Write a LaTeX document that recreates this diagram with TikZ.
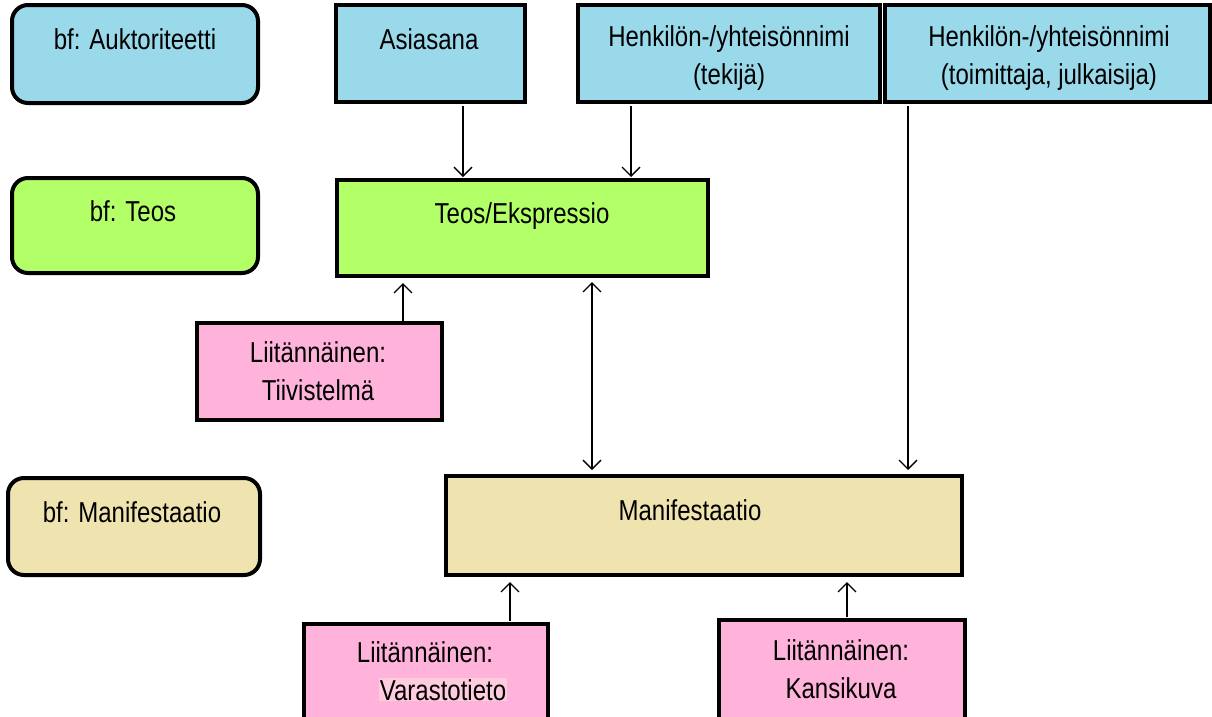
\documentclass[tikz,border=0pt]{standalone}
\usepackage{fontspec}
\setmainfont{Liberation Sans}
\usepackage{graphicx}
\usetikzlibrary{arrows.meta}
\definecolor{authblue}{RGB}{153,217,234}
\definecolor{workgreen}{RGB}{178,255,104}
\definecolor{maniftan}{RGB}{239,228,176}
\definecolor{derivpink}{RGB}{255,179,219}
\definecolor{highpink}{RGB}{255,204,222}
\newcommand{\tall}[1]{\scalebox{1}[1.2]{#1}}

\begin{document}
\begin{tikzpicture}[x=1pt, y=-1pt, >={Straight Barb[length=9pt,width=18pt]},
    box/.style={draw, line width=4pt, inner sep=0pt},
    legend/.style={box, rounded corners=16pt},
    lbl/.style={font=\fontsize{24}{38}\selectfont, inner sep=0pt, anchor=base, align=center},
    link/.style={->, line width=1.3pt}]
    \useasboundingbox (0,0) rectangle (1212,716);

    % legend boxes
    \node [legend, fill=authblue, minimum width=246pt, minimum height=98pt] (auth) at (135,54) {};
    \node [legend, fill=workgreen, minimum width=246pt, minimum height=95pt] (teosL) at (135,225.5) {};
    \node [legend, fill=maniftan, minimum width=252pt, minimum height=97pt] (manifL) at (134,526.5) {};

    % authority boxes
    \node [box, fill=authblue, minimum width=189pt, minimum height=97pt] (asia) at (430.5,53.5) {};
    \node [box, fill=authblue, minimum width=302pt, minimum height=97pt] (tekija) at (729,53.5) {};
    \node [box, fill=authblue, minimum width=325pt, minimum height=97pt] (toim) at (1047.5,53.5) {};

    % work and manifestation
    \node [box, fill=workgreen, minimum width=371pt, minimum height=96pt] (teos) at (522.5,228) {};
    \node [box, fill=maniftan, minimum width=516pt, minimum height=99pt] (manif) at (704,525.5) {};

    % derived boxes
    \node [box, fill=derivpink, minimum width=245pt, minimum height=97pt] (tiiv) at (319.5,371.5) {};
    \node [box, fill=derivpink, minimum width=244pt, minimum height=96pt] (vara) at (426,672) {};
    \node [box, fill=derivpink, minimum width=246pt, minimum height=100pt] (kansi) at (842,670) {};

    % labels (base = last line)
    \node [lbl] (authT) at (135,49) {\tall{bf: Auktoriteetti}};
    \node [lbl] (teosLT) at (133,221) {\tall{bf: Teos}};
    \node [lbl] (manifLT) at (132,522) {\tall{bf: Manifestaatio}};
    \node [lbl] (asiaT) at (429,49) {\tall{Asiasana}};
    \node [lbl] (tekijaT) at (729,84) {\tall{Henkilön-/yhteisönnimi}\\\tall{(tekijä)}};
    \node [lbl] (toimT) at (1049,84) {\tall{Henkilön-/yhteisönnimi}\\\tall{(toimittaja, julkaisija)}};
    \node [lbl] (teosT) at (522,223) {\tall{Teos/Ekspressio}};
    \node [lbl] (manifT) at (690,520) {\tall{Manifestaatio}};
    \node [lbl] (tiivT) at (318,400) {\tall{Liitännäinen:}\\\tall{Tiivistelmä}};
    \node [lbl] (varaT) at (425,700) {\tall{Liitännäinen:}\\\hspace*{36pt}{\setlength{\fboxsep}{1pt}\colorbox{highpink}{\tall{Varastotieto}}}};
    \node [lbl] (kansiT) at (841,698) {\tall{Liitännäinen:}\\\tall{Kansikuva}};

    % connectors
    \coordinate (asiaOut) at ([xshift=32.5pt]asia.south);
    \coordinate (tekijaOut) at ([xshift=-98pt]tekija.south);
    \coordinate (toimOut) at ([xshift=-139.5pt]toim.south);
    \coordinate (tiivOut) at ([xshift=83.5pt]tiiv.north);
    \coordinate (teosOut) at ([xshift=69.5pt]teos.south);
    \coordinate (varaOut) at ([xshift=84pt]vara.north);
    \coordinate (kansiOut) at ([xshift=5pt]kansi.north);

    \draw [link, shorten <=2pt, shorten >=1pt] (asiaOut) -- (asiaOut |- teos.north);
    \draw [link, shorten <=2pt, shorten >=1pt] (tekijaOut) -- (tekijaOut |- teos.north);
    \draw [link, shorten <=2pt, shorten >=4pt] (toimOut) -- (toimOut |- manif.north);
    \draw [link, shorten >=5pt] (tiivOut) -- (tiivOut |- teos.south);
    \draw [link, <->, shorten <=4pt, shorten >=4pt] (teosOut) -- (teosOut |- manif.north);
    \draw [link, shorten <=1pt, shorten >=5pt] (varaOut) -- (varaOut |- manif.south);
    \draw [link, shorten <=1pt, shorten >=5pt] (kansiOut) -- (kansiOut |- manif.south);
\end{tikzpicture}
\end{document}
